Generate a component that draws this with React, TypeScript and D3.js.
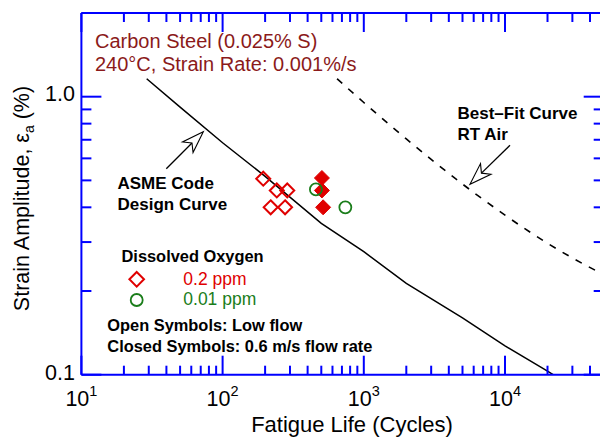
import React from "react";
import * as d3 from "d3";

// ---------- data ----------
const xDomain = [10, 50000];
const yDomain = [0.1, 2];

const xMajorTicks = [10, 100, 1000, 10000];
const xTickExponents = ["1", "2", "3", "4"];
const yMajorTicks = [0.1, 1];
const yTickLabels = ["0.1", "1.0"];

// ASME Code design curve (carbon steel)
const asmeN = [29, 50, 100, 200, 500, 1000, 2000, 5000, 10000, 20000, 50000];
const asmeStrain = [1.16, 0.917, 0.683, 0.517, 0.35, 0.277, 0.213, 0.16, 0.127, 0.103, 0.077];

// Best-fit curve, RT air
const bestFitN = [646, 1000, 1500, 2000, 3000, 5000, 7000, 10000, 15000, 20000, 30000, 50000];
const bestFitStrain = [1.16, 0.953, 0.797, 0.705, 0.595, 0.485, 0.427, 0.375, 0.326, 0.297, 0.263, 0.229];

// 0.2 ppm DO, low flow (open diamonds)
const openDiamondN = [194, 242, 287, 219, 277];
const openDiamondStrain = [0.507, 0.46, 0.46, 0.4, 0.4];

// 0.2 ppm DO, 0.6 m/s (filled diamonds)
const filledDiamondN = [505, 505, 515];
const filledDiamondStrain = [0.51, 0.46, 0.4];

// 0.01 ppm DO, low flow (open circles)
const openCircleN = [458, 740];
const openCircleStrain = [0.464, 0.4];

// annotation arrow targets (data coords)
const asmeArrowTip = [73, 0.748];
const bestFitArrowTip = [5650, 0.484];

// ---------- styles ----------
const W = 600;
const H = 439;
const AXIS = "#0000ff";
const RED = "#e00000";
const GREEN = "#1a7d1a";
const TITLE = "#8b1a1a";
const FONT = "'Liberation Sans', Arial, Helvetica, sans-serif";

const x = d3.scaleLog().domain(xDomain).range([81.4, 603.7]);
const y = d3.scaleLog().domain(yDomain).range([374.7, 13]);

const X0 = x(xDomain[0]);
const X1 = x(xDomain[1]);
const Y0 = y(yDomain[0]);
const Y1 = y(yDomain[1]);

const zip = (a: number[], b: number[]) => a.map((v, i) => [v, b[i]] as [number, number]);

const line = d3
  .line<[number, number]>()
  .x((d) => x(d[0]))
  .y((d) => y(d[1]));
const smooth = d3
  .line<[number, number]>()
  .x((d) => x(d[0]))
  .y((d) => y(d[1]))
  .curve(d3.curveMonotoneX);

const diamond = (cx: number, cy: number, r: number) =>
  `M${cx},${cy - r}L${cx + r},${cy}L${cx},${cy + r}L${cx - r},${cy}Z`;

function Arrow({ tip, tail }: { tip: [number, number]; tail: [number, number] }) {
  const dx = tip[0] - tail[0];
  const dy = tip[1] - tail[1];
  const L = Math.hypot(dx, dy);
  const ux = dx / L;
  const uy = dy / L;
  const nx = -uy;
  const ny = ux;
  const headLen = 22;
  const headW = 7.5;
  const notch = 16;
  const bx = tip[0] - headLen * ux;
  const by = tip[1] - headLen * uy;
  const w1 = [bx + headW * nx, by + headW * ny];
  const w2 = [bx - headW * nx, by - headW * ny];
  const nt = [tip[0] - notch * ux, tip[1] - notch * uy];
  return (
    <g>
      <line x1={tail[0]} y1={tail[1]} x2={nt[0]} y2={nt[1]} stroke="#000" strokeWidth={1.3} />
      <polygon
        points={`${tip[0]},${tip[1]} ${w1[0]},${w1[1]} ${nt[0]},${nt[1]} ${w2[0]},${w2[1]}`}
        fill="#fff"
        stroke="#000"
        strokeWidth={1.1}
        strokeLinejoin="miter"
      />
    </g>
  );
}

export default function App() {
  const xTicks = x.ticks();
  const yTicks = y.ticks();
  const isMajor = (v: number) => Math.abs(Math.log10(v) - Math.round(Math.log10(v))) < 1e-9;

  const asmeTipPx: [number, number] = [x(asmeArrowTip[0]), y(asmeArrowTip[1])];
  const bfTipPx: [number, number] = [x(bestFitArrowTip[0]), y(bestFitArrowTip[1])];

  return (
    <svg
      width={W}
      height={H}
      style={{ position: "absolute", left: 0, top: 0, background: "#fff" }}
      fontFamily={FONT}
    >
      <defs>
        <clipPath id="plot">
          <rect x={X0} y={Y1} width={X1 - X0} height={Y0 - Y1} />
        </clipPath>
      </defs>
      <rect x={0} y={0} width={W} height={H} fill="#fff" />

      {/* curves */}
      <g clipPath="url(#plot)">
        <path d={line(zip(asmeN, asmeStrain)) || ""} fill="none" stroke="#000" strokeWidth={1.5} />
        <path
          d={smooth(zip(bestFitN, bestFitStrain)) || ""}
          fill="none"
          stroke="#000"
          strokeWidth={1.6}
          strokeDasharray="7,8"
        />
      </g>

      {/* data markers */}
      {zip(openDiamondN, openDiamondStrain).map((d, i) => (
        <path key={"od" + i} d={diamond(x(d[0]), y(d[1]), 7)} fill="none" stroke={RED} strokeWidth={2} />
      ))}
      {zip(filledDiamondN, filledDiamondStrain).map((d, i) => (
        <path key={"fd" + i} d={diamond(x(d[0]), y(d[1]), 7.5)} fill={RED} stroke={RED} strokeWidth={1} />
      ))}
      {zip(openCircleN, openCircleStrain).map((d, i) => (
        <circle key={"oc" + i} cx={x(d[0])} cy={y(d[1])} r={6} fill="none" stroke={GREEN} strokeWidth={1.8} />
      ))}

      {/* axes frame */}
      <g stroke={AXIS} strokeWidth={2} fill="none">
        <line x1={X0} y1={Y0} x2={X1} y2={Y0} />
        <line x1={X0} y1={Y1} x2={X1} y2={Y1} />
        <line x1={X0} y1={Y0} x2={X0} y2={Y1} />
        <line x1={X1} y1={Y0} x2={X1} y2={Y1} />
        {xTicks.map((t, i) => {
          const len = isMajor(t) ? 19 : 9;
          const px = x(t);
          return (
            <g key={"xt" + i}>
              <line x1={px} y1={Y0} x2={px} y2={Y0 - len} />
              <line x1={px} y1={Y1} x2={px} y2={Y1 + len} />
            </g>
          );
        })}
        {yTicks.map((t, i) => {
          const len = isMajor(t) ? 20 : 10;
          const py = y(t);
          return (
            <g key={"yt" + i}>
              <line x1={X0} y1={py} x2={X0 + len} y2={py} />
              <line x1={X1} y1={py} x2={X1 - len} y2={py} />
            </g>
          );
        })}
      </g>

      {/* tick labels */}
      {xMajorTicks.map((t, i) => (
        <text key={"xl" + i} x={x(t)} y={405.5} textAnchor="middle" fontSize={21.5} fill="#000">
          <tspan>10</tspan>
          <tspan fontSize={14.5} dy={-9.5}>
            {xTickExponents[i]}
          </tspan>
        </text>
      ))}
      {yMajorTicks.map((t, i) => (
        <text key={"yl" + i} x={75} y={y(t) + 4.8} textAnchor="end" fontSize={21.5} fill="#000">
          {yTickLabels[i]}
        </text>
      ))}

      {/* axis titles */}
      <text x={352} y={431.5} textAnchor="middle" fontSize={22} fill="#000">
        Fatigue Life (Cycles)
      </text>
      <text transform="translate(29,198.5) rotate(-90)" textAnchor="middle" fontSize={21.5} fill="#000">
        <tspan>Strain Amplitude,  ε</tspan>
        <tspan fontSize={14} dy={5}>
          a
        </tspan>
        <tspan dy={-5}> (%)</tspan>
      </text>

      {/* title */}
      <text x={95} y={48} fontSize={20} fill={TITLE}>
        Carbon Steel (0.025% S)
      </text>
      <text x={95} y={71} fontSize={20} fill={TITLE}>
        240°C, Strain Rate: 0.001%/s
      </text>

      {/* annotations */}
      <Arrow tip={asmeTipPx} tail={[asmeTipPx[0] - 37, asmeTipPx[1] + 37]} />
      <text x={117.5} y={189.3} fontSize={17} fontWeight="bold" fill="#000">
        ASME Code
      </text>
      <text x={117.5} y={209.5} fontSize={17} fontWeight="bold" fill="#000">
        Design Curve
      </text>

      <Arrow tip={bfTipPx} tail={[bfTipPx[0] + 40, bfTipPx[1] - 39]} />
      <text x={457.5} y={118.5} fontSize={17} fontWeight="bold" fill="#000">
        Best–Fit Curve
      </text>
      <text x={457.5} y={139.5} fontSize={17} fontWeight="bold" fill="#000">
        RT Air
      </text>

      {/* legend */}
      <text x={121.5} y={262.3} fontSize={16.4} fontWeight="bold" fill="#000">
        Dissolved Oxygen
      </text>
      <path d={diamond(136.7, 279.3, 7.3)} fill="none" stroke={RED} strokeWidth={2} />
      <text x={183.3} y={284.5} fontSize={17.5} fill={RED}>
        0.2 ppm
      </text>
      <circle cx={136.7} cy={300} r={6} fill="none" stroke={GREEN} strokeWidth={1.8} />
      <text x={183.3} y={305.3} fontSize={17.5} fill={GREEN}>
        0.01 ppm
      </text>
      <text x={107.3} y={330.7} fontSize={16.4} fontWeight="bold" fill="#000">
        Open Symbols: Low flow
      </text>
      <text x={107.3} y={351.7} fontSize={16.4} fontWeight="bold" fill="#000">
        Closed Symbols: 0.6 m/s flow rate
      </text>
    </svg>
  );
}
